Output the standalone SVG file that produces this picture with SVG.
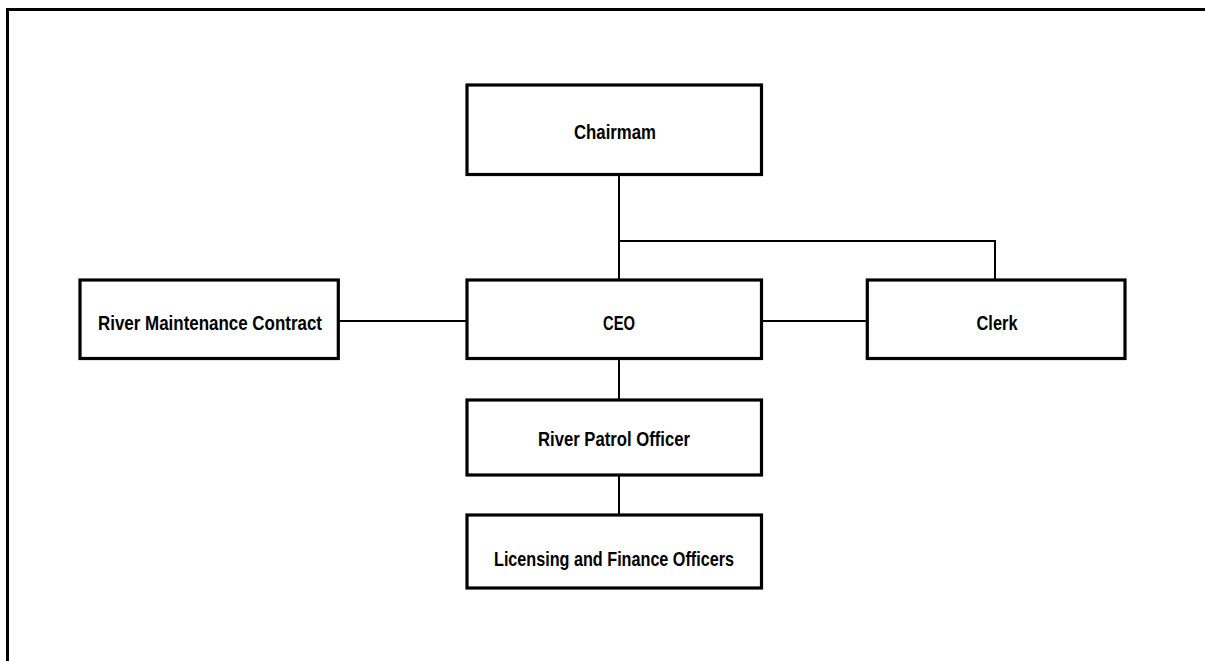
<svg xmlns="http://www.w3.org/2000/svg" width="1205" height="661" viewBox="0 0 1205 661">
<style>
.box{fill:#fff;stroke:#000;stroke-width:3.2}
.frame{fill:none;stroke:#000;stroke-width:3}
.con{fill:none;stroke:#000;stroke-width:2}
.lbl{font-family:"Liberation Sans",Arial,sans-serif;font-weight:bold;font-size:21px;fill:#000;text-anchor:middle}
</style>
<rect x="0" y="0" width="1205" height="661" fill="#fff"/>
<rect class="frame" x="7.5" y="9.5" width="1300" height="800"/>
<g id="connectors">
<line class="con" x1="619" y1="175" x2="619" y2="280"/>
<polyline class="con" points="619,241 995,241 995,280"/>
<line class="con" x1="338" y1="321" x2="467" y2="321"/>
<line class="con" x1="761" y1="321" x2="867" y2="321"/>
<line class="con" x1="619" y1="359" x2="619" y2="400"/>
<line class="con" x1="619" y1="475" x2="619" y2="515"/>
</g>
<g id="chairman">
<rect class="box" x="467" y="85" width="294.5" height="89.5"/>
<text class="lbl" x="615" y="139" textLength="82" lengthAdjust="spacingAndGlyphs">Chairmam</text>
</g>
<g id="ceo">
<rect class="box" x="467" y="280" width="294.5" height="78.5"/>
<text class="lbl" x="619" y="330" textLength="32" lengthAdjust="spacingAndGlyphs">CEO</text>
</g>
<g id="rmc">
<rect class="box" x="80" y="280" width="258.3" height="78.5"/>
<text class="lbl" x="210" y="330" textLength="224" lengthAdjust="spacingAndGlyphs">River Maintenance Contract</text>
</g>
<g id="clerk">
<rect class="box" x="867.3" y="280" width="257.7" height="78.5"/>
<text class="lbl" x="997" y="330" textLength="41" lengthAdjust="spacingAndGlyphs">Clerk</text>
</g>
<g id="rpo">
<rect class="box" x="467" y="400" width="294.5" height="75"/>
<text class="lbl" x="614" y="446" textLength="152" lengthAdjust="spacingAndGlyphs">River Patrol Officer</text>
</g>
<g id="licensing">
<rect class="box" x="467" y="515" width="294.5" height="73"/>
<text class="lbl" x="614" y="566" textLength="240" lengthAdjust="spacingAndGlyphs">Licensing and Finance Officers</text>
</g>
</svg>
